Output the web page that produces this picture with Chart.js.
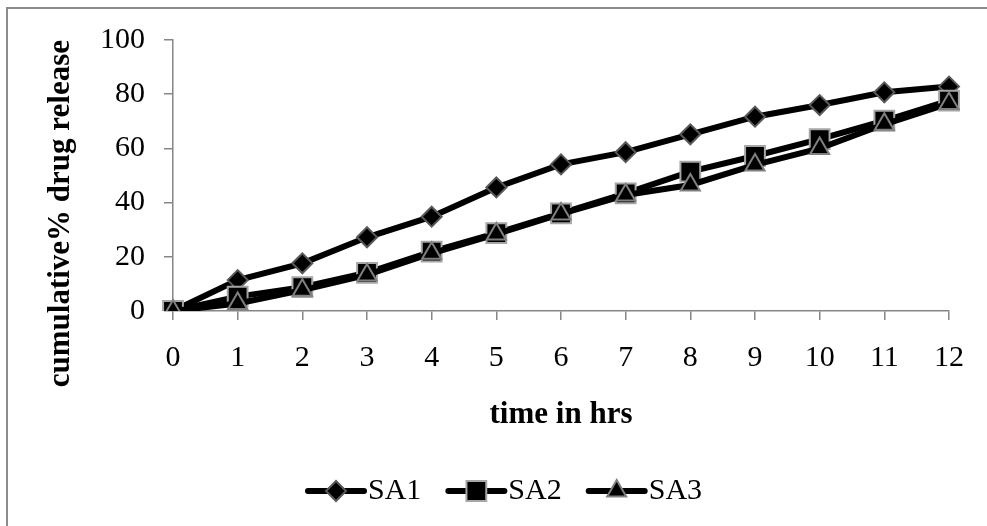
<!DOCTYPE html>
<html>
<head>
<meta charset="utf-8">
<script src="https://cdn.jsdelivr.net/npm/chart.js@4.4.1/dist/chart.umd.min.js"></script>
<style>
  html, body { margin: 0; padding: 0; background: #ffffff; }
  #wrap { position: relative; width: 987px; height: 526px; }
</style>
</head>
<body>
<div id="wrap"><canvas id="c"></canvas></div>
<script>
const hours = ['0','1','2','3','4','5','6','7','8','9','10','11','12'];
const seriesNames = ['SA1', 'SA2', 'SA3'];
const sa1 = [0, 11.4, 17.6, 27.2, 34.8, 45.6, 54.1, 58.6, 65.2, 71.7, 76.0, 80.7, 82.8];
const sa2 = [0, 5.3, 8.8, 14.1, 21.9, 28.7, 36.0, 43.4, 51.4, 57.2, 63.4, 70.2, 77.6];
const sa3 = [0, 2.8, 7.7, 13.3, 21.3, 28.4, 35.8, 42.8, 46.5, 53.9, 60.0, 68.9, 76.6];
const yTicks = [0, 20, 40, 60, 80, 100];
const xTitle = 'time in hrs';
const yTitle = 'cumulative% drug release';

const FONT = "'Liberation Serif', 'Times New Roman', serif";
const AXIS_GRAY = '#868686';

const styles = [
  { pointStyle: 'rectRot', radius: 10, border: '#595959' },
  { pointStyle: 'rect', radius: 14, border: '#a6a6a6' },
  { pointStyle: 'triangle', radius: 11, border: '#808080' }
];
const values = [sa1, sa2, sa3];

const datasets = values.map((v, i) => ({
  label: seriesNames[i],
  data: v,
  borderColor: '#000000',
  borderWidth: 6,
  backgroundColor: '#000000',
  pointStyle: styles[i].pointStyle,
  pointRadius: styles[i].radius,
  pointHoverRadius: styles[i].radius,
  pointBackgroundColor: '#000000',
  pointBorderColor: styles[i].border,
  pointBorderWidth: 2,
  tension: 0,
  fill: false,
  order: 3 - i
}));

const frameAndLegend = {
  id: 'frameAndLegend',
  afterDraw(chart) {
    const ctx = chart.ctx;
    ctx.save();
    ctx.strokeStyle = '#8c8c8c';
    ctx.lineWidth = 2;
    ctx.beginPath();
    ctx.moveTo(7, 526);
    ctx.lineTo(7, 8);
    ctx.lineTo(987, 8);
    ctx.stroke();

    const y = 491;
    let x = 308;
    const lineLen = 56;
    ctx.font = '30px ' + FONT;
    ctx.textBaseline = 'middle';
    ctx.textAlign = 'left';
    chart.data.datasets.forEach((ds) => {
      ctx.strokeStyle = '#000000';
      ctx.lineWidth = 6;
      ctx.lineCap = 'round';
      ctx.beginPath();
      ctx.moveTo(x, y);
      ctx.lineTo(x + lineLen, y);
      ctx.stroke();
      ctx.lineCap = 'butt';
      ctx.fillStyle = '#000000';
      ctx.strokeStyle = ds.pointBorderColor;
      ctx.lineWidth = 2;
      if (Chart.helpers && Chart.helpers.drawPoint) {
        Chart.helpers.drawPoint(ctx, {
          pointStyle: ds.pointStyle,
          radius: ds.pointRadius,
          rotation: 0,
          borderWidth: 2
        }, x + lineLen / 2, y);
      }
      ctx.fillStyle = '#000000';
      const tx = x + lineLen + 4;
      ctx.fillText(ds.label, tx, y);
      const tw = ctx.measureText(ds.label).width;
      x = tx + tw + 27;
    });
    ctx.restore();
  }
};

new Chart(document.getElementById('c'), {
  type: 'line',
  data: { labels: hours, datasets: datasets },
  options: {
    responsive: true,
    maintainAspectRatio: false,
    animation: false,
    layout: { padding: { left: 0, right: 38, top: 40, bottom: 0 } },
    plugins: {
      legend: { display: false },
      tooltip: { enabled: false }
    },
    scales: {
      x: {
        type: 'category',
        offset: false,
        grid: {
          display: true,
          drawOnChartArea: false,
          drawTicks: true,
          tickLength: 9,
          color: AXIS_GRAY,
          lineWidth: 1.5
        },
        border: { display: true, color: AXIS_GRAY, width: 1.5 },
        ticks: {
          color: '#000000',
          font: { family: FONT, size: 30 },
          padding: 20,
          maxRotation: 0,
          autoSkip: false
        },
        title: {
          display: true,
          text: xTitle,
          color: '#000000',
          font: { family: FONT, size: 31, weight: 'bold' },
          padding: { top: 0, bottom: 92 }
        },
        afterFit(scale) { scale.height = 215; }
      },
      y: {
        min: 0,
        max: 100,
        afterBuildTicks(scale) { scale.ticks = yTicks.map(v => ({ value: v })); },
        grid: {
          display: true,
          drawOnChartArea: false,
          drawTicks: true,
          tickLength: 9,
          color: AXIS_GRAY,
          lineWidth: 1.5
        },
        border: { display: true, color: AXIS_GRAY, width: 1.5 },
        ticks: {
          color: '#000000',
          font: { family: FONT, size: 30 },
          padding: 19
        },
        title: {
          display: true,
          text: yTitle,
          align: 'end',
          color: '#000000',
          font: { family: FONT, size: 31, weight: 'bold' },
          padding: { top: 42, bottom: 0 }
        },
        afterFit(scale) { scale.width = 173; }
      }
    }
  },
  plugins: [frameAndLegend]
});
</script>
</body>
</html>
